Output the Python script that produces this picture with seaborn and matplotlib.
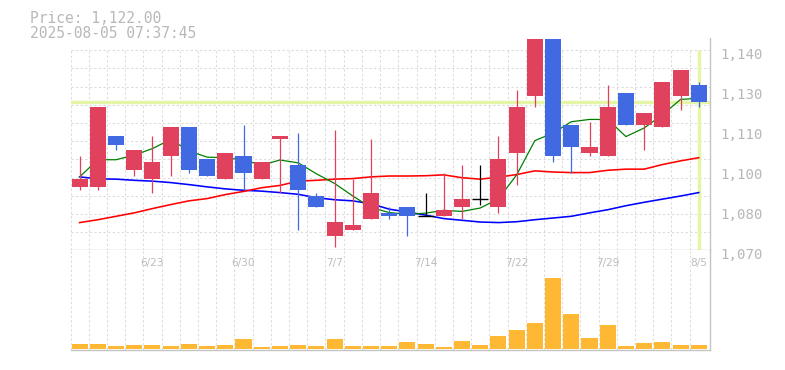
import numpy as np
import pandas as pd
import matplotlib
matplotlib.use("Agg")
import matplotlib.pyplot as plt
from matplotlib import transforms
import seaborn as sns

# ---------------- data ----------------
dates = ["6/17", "6/18", "6/19", "6/20", "6/23", "6/24", "6/25", "6/26", "6/27",
         "6/30", "7/1", "7/2", "7/3", "7/4", "7/7", "7/8", "7/9", "7/10", "7/11",
         "7/14", "7/15", "7/16", "7/17", "7/18", "7/22", "7/23", "7/24", "7/25",
         "7/28", "7/29", "7/30", "7/31", "8/1", "8/4", "8/5"]
opens = [1092, 1092, 1110, 1098, 1095, 1103, 1113, 1102, 1095, 1103, 1095, 1109,
         1100, 1089, 1075, 1077, 1081, 1083, 1085, 1082, 1082, 1085, 1088, 1085,
         1104, 1124, 1144, 1114, 1104, 1103, 1125, 1114, 1113, 1124, 1128]
highs = [1103, 1120, 1110, 1105, 1110, 1113, 1113, 1102, 1104, 1114, 1101, 1110,
         1111, 1090, 1112, 1095, 1109, 1085, 1085, 1090, 1097, 1100, 1100, 1110,
         1126, 1144, 1144, 1114, 1115, 1128, 1125, 1118, 1129, 1133, 1129]
lows = [1091, 1091, 1105, 1096, 1090, 1096, 1097, 1096, 1095, 1091, 1095, 1090,
        1077, 1085, 1071, 1077, 1081, 1081, 1075, 1082, 1082, 1081, 1086, 1083,
        1093, 1120, 1101, 1097, 1103, 1103, 1114, 1105, 1113, 1119, 1120]
closes = [1095, 1120, 1107, 1105, 1101, 1113, 1098, 1096, 1104, 1097, 1101, 1110,
          1091, 1085, 1080, 1079, 1090, 1082, 1082, 1082, 1084, 1088, 1088, 1102,
          1120, 1144, 1103, 1106, 1106, 1120, 1114, 1118, 1129, 1133, 1122]
volume_k = [5, 5, 3, 4, 4, 3, 5, 3, 4, 10, 2, 3, 4, 3, 10, 3, 3, 3, 7, 5, 2, 8,
            4, 13, 19, 26, 71, 35, 11, 24, 3, 6, 7, 4, 4]
ma5 = [1095.7, 1101.7, 1101.7, 1103.3, 1105.6, 1108.8, 1104.8, 1102.6, 1102.4,
       1101.6, 1099.8, 1101.6, 1100.6, 1096.8, 1093.4, 1089.0, 1085.0, 1083.2,
       1082.6, 1083.0, 1084.0, 1083.6, 1084.8, 1088.0, 1096.4, 1108.4, 1111.0,
       1115.0, 1115.8, 1115.8, 1109.8, 1112.8, 1117.4, 1122.8, 1123.2]
ma25 = [1079.7, 1080.7, 1081.9, 1083.1, 1084.6, 1086.0, 1087.3, 1088.1, 1089.5,
        1090.6, 1091.9, 1092.7, 1094.2, 1094.5, 1094.9, 1095.1, 1095.7, 1096.0,
        1096.0, 1096.1, 1096.4, 1095.4, 1094.9, 1095.6, 1096.5, 1097.8, 1097.4,
        1097.2, 1097.2, 1098.0, 1098.4, 1098.4, 1100.0, 1101.3, 1102.4]
ma75 = [1095.7, 1095.0, 1094.9, 1094.5, 1094.2, 1093.7, 1093.0, 1092.2, 1091.5,
        1091.0, 1090.7, 1090.2, 1089.6, 1088.4, 1087.7, 1087.3, 1086.3, 1084.4,
        1083.4, 1082.3, 1081.1, 1080.5, 1079.9, 1079.7, 1080.0, 1080.7, 1081.3,
        1081.9, 1083.1, 1084.2, 1085.6, 1086.8, 1087.9, 1089.0, 1090.2]
current_price = 1122.00
timestamp = "2025-08-05 07:37:45"
xtick_dates = ["6/23", "6/30", "7/7", "7/14", "7/22", "7/29", "8/5"]
ytick_values = [1070, 1084, 1098, 1112, 1126, 1140]
ytick_labels = ["1,070", "1,080", "1,100", "1,110", "1,130", "1,140"]

# ---------------- style ----------------
UP = "#e0425e"
DOWN = "#4169e1"
VOL = "#ffb833"
HILITE = "#e4f5a6"
GRID = "#dcdcdc"
AXC = "#c4c4c4"
TXT = "#b8b8b8"

df = pd.DataFrame({"date": dates, "open": opens, "high": highs, "low": lows,
                   "close": closes, "vol": volume_k,
                   "ma5": ma5, "ma25": ma25, "ma75": ma75})
df["i"] = np.arange(len(df))

W, H = 785, 370
fig = plt.figure(figsize=(W / 100, H / 100), dpi=100)
fig.patch.set_facecolor("white")


def frame(x0, y0, x1, y1):
    return [x0 / W, 1 - y1 / H, (x1 - x0) / W, (y1 - y0) / H]


ax = fig.add_axes(frame(70.5, 38, 709.7, 250.3))
axv = fig.add_axes(frame(70.5, 250.3, 709.7, 350))

n = len(df)
xlo, xhi = -0.5, n - 1 + 0.6
grid_lo, grid_hi = ytick_values[0], ytick_values[-1]
dash = (0, (2.2, 2.2))

for a in (ax, axv):
    a.set_facecolor("white")
    for s in ("left", "top"):
        a.spines[s].set_visible(False)
    for s in ("right", "bottom"):
        a.spines[s].set_color(AXC)
        a.spines[s].set_linewidth(1.0)
    a.tick_params(length=0)

# ---- price panel ----
bounds = np.arange(n) - 0.5
ax.vlines(bounds, grid_lo, grid_hi, colors=GRID, lw=0.75, linestyles=dash, zorder=0)
ax.hlines(np.linspace(grid_lo, grid_hi, 12)[1:], xlo, xhi, colors=GRID, lw=0.75,
          linestyles=dash, zorder=0)

ax.axhline(current_price, color=HILITE, lw=2.5, zorder=1)
ax.vlines(df["i"].iloc[-1], grid_lo, grid_hi, colors=HILITE, lw=2.5, zorder=1)

sns.lineplot(data=df, x="i", y="ma75", ax=ax, color="#0000ff", lw=1.15, legend=False, zorder=2)
sns.lineplot(data=df, x="i", y="ma25", ax=ax, color="#ff0000", lw=1.15, legend=False, zorder=2)
sns.lineplot(data=df, x="i", y="ma5", ax=ax, color="#008000", lw=0.9, legend=False, zorder=2)

colors = np.where(df["close"] > df["open"], UP,
                  np.where(df["close"] < df["open"], DOWN, "black"))
ax.vlines(df["i"], df["low"], df["high"], colors=colors, lw=0.9, zorder=3)
body_lo = np.minimum(df["open"], df["close"])
body_h = np.abs(df["close"] - df["open"])
ax.bar(df["i"], body_h, bottom=body_lo, width=0.88, color=colors, lw=0, zorder=4)
doji = df[df["close"] == df["open"]]
ax.hlines(doji["close"], doji["i"] - 0.44, doji["i"] + 0.44, colors="black", lw=1.0, zorder=4)

ax.set_xlim(xlo, xhi)
ax.set_ylim(grid_lo, 1144.3)
ax.set_xticks([])
ax.set_xlabel("")
ax.set_ylabel("")
ax.yaxis.tick_right()
ax.set_yticks(ytick_values, ytick_labels)
ax.tick_params(axis="y", pad=7.5, labelsize=10.2, labelcolor=TXT)
off = transforms.ScaledTranslation(0, -0.035, fig.dpi_scale_trans)
for lab in ax.get_yticklabels():
    lab.set_fontfamily("DejaVu Sans Mono")
    lab.set_transform(lab.get_transform() + off)

# ---- volume panel ----
sns.barplot(data=df, x="i", y="vol", ax=axv, native_scale=True, color=VOL,
            saturation=1, width=0.88, linewidth=0, zorder=2)
axv.vlines(bounds, -5, 200, colors=GRID, lw=0.75, linestyles=dash, zorder=0)
axv.set_xlim(xlo, xhi)
axv.set_ylim(-1.5, 98.2)
axv.set_xticks([])
axv.set_yticks([])
axv.set_xlabel("")
axv.set_ylabel("")
tr = transforms.blended_transform_factory(axv.transData, axv.transAxes)
for d in xtick_dates:
    xi = dates.index(d)
    axv.text(xi, 0.877, d, transform=tr, ha="center", va="center",
             fontsize=7.6, color="#bcbcbc", family="DejaVu Sans", zorder=3)

# ---- header text ----
fig.text(30 / W, 1 - 23.3 / H, f"Price: {current_price:,.2f}", family="DejaVu Sans Mono",
         fontsize=10.5, color=TXT, va="baseline", ha="left")
fig.text(30 / W, 1 - 38.3 / H, timestamp, family="DejaVu Sans Mono",
         fontsize=10.5, color=TXT, va="baseline", ha="left")

fig.savefig("out.png", dpi=100, facecolor="white")
